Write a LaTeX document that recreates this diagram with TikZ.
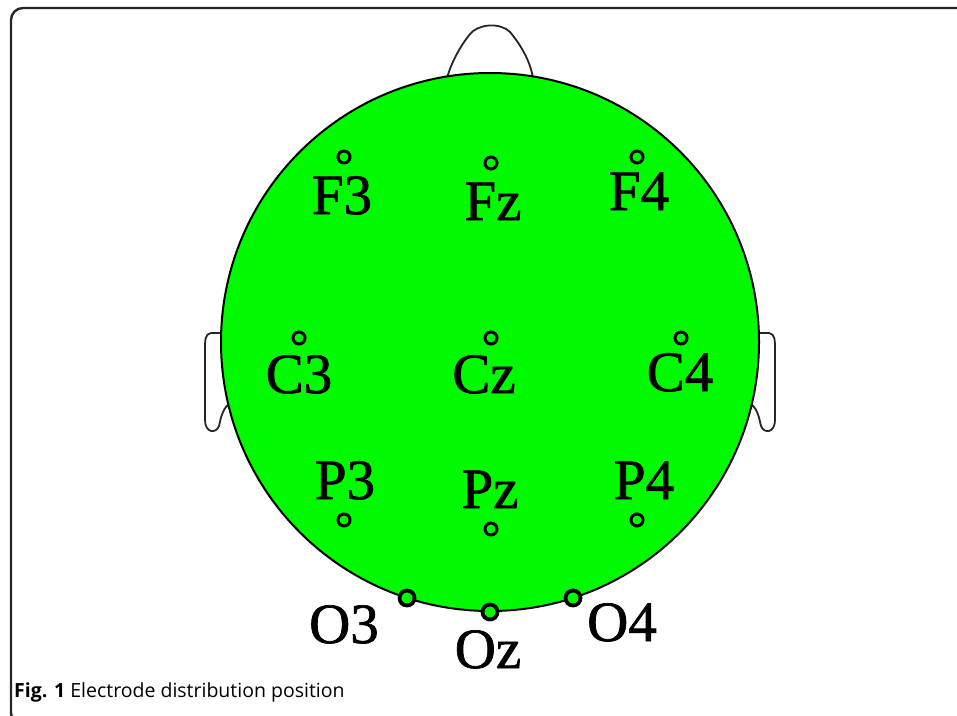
\documentclass[tikz,border=0pt]{standalone}
\usepackage{fontspec}
\setmainfont{Liberation Serif}
\newfontfamily\elfont[FakeBold=1.2]{Liberation Serif}
\newfontfamily\capfont{Open Sans}
\definecolor{headgreen}{RGB}{0,250,0}
\begin{document}
\begin{tikzpicture}[x=1pt,y=1pt,
  headline/.style={draw=black,line width=2pt},
  earline/.style={draw=black!85,line width=1.8pt,fill=white},
  electrode/.style={circle,draw=black,line width=3pt,minimum size=12pt,inner sep=0pt,fill=headgreen},
  oelectrode/.style={circle,draw=black,line width=3.8pt,minimum size=15pt,inner sep=0pt,fill=headgreen},
  elabel/.style={anchor=base,inner sep=0pt,font=\elfont\fontsize{57}{57}\selectfont},
  frameline/.style={draw=black!85,line width=2.4pt,rounded corners=12pt}]
\useasboundingbox (0,0) rectangle (957,-715);
\begin{scope}
  \clip (0,0) rectangle (957,-715);
  \draw[frameline] (11,-8) rectangle (1000,-725);
\end{scope}
% nose
\draw[earline] (447,-78) .. controls (452,-60) and (462,-44) .. (470,-34) .. controls (478,-24) and (500,-22) .. (510,-32) .. controls (520,-44) and (530,-60) .. (533,-78);
% ears
\draw[earline] (228,-333) -- (211,-333) .. controls (205,-334) and (205,-340) .. (205,-350) -- (205,-420) .. controls (205,-433) and (216,-434) .. (219,-426) .. controls (221,-418) and (222,-410) .. (228,-405);
\draw[earline] (752,-333) -- (769,-333) .. controls (775,-334) and (775,-340) .. (775,-350) -- (775,-420) .. controls (775,-433) and (764,-434) .. (761,-426) .. controls (759,-418) and (758,-410) .. (752,-405);
% head
\node[circle,headline,fill=headgreen,minimum size=538pt,inner sep=0pt] (head) at (490,-342) {};
% electrodes
\node[electrode] (F3) at (344,-157) {};
\node[electrode] (Fz) at (491,-163) {};
\node[electrode] (F4) at (637,-157) {};
\node[electrode] (C3) at (299,-338) {};
\node[electrode] (Cz) at (491,-338) {};
\node[electrode] (C4) at (681,-338) {};
\node[electrode] (P3) at (344,-520) {};
\node[electrode] (Pz) at (491,-529) {};
\node[electrode] (P4) at (637,-520) {};
\node[oelectrode] (O3) at (407,-598) {};
\node[oelectrode] (Oz) at (490,-612) {};
\node[oelectrode] (O4) at (573,-598) {};
% labels
\node[elabel] (lF3) at (342,-214) {F3};
\node[elabel] (lFz) at (493,-220) {Fz};
\node[elabel] (lF4) at (639,-210) {F4};
\node[elabel] (lC3) at (299,-393) {C3};
\node[elabel] (lCz) at (484,-393) {Cz};
\node[elabel] (lC4) at (680,-391) {C4};
\node[elabel] (lP3) at (345,-499) {P3};
\node[elabel] (lPz) at (490,-508) {Pz};
\node[elabel] (lP4) at (644,-499) {P4};
\node[elabel] (lO3) at (344,-643) {O3};
\node[elabel] (lOz) at (488,-668) {Oz};
\node[elabel] (lO4) at (622,-641) {O4};
% caption
\node[anchor=base west,inner sep=0pt] (caption) at (14,-697) {\capfont\fontsize{19.5}{19.5}\selectfont\textbf{Fig. 1} Electrode distribution position};
\end{tikzpicture}
\end{document}
